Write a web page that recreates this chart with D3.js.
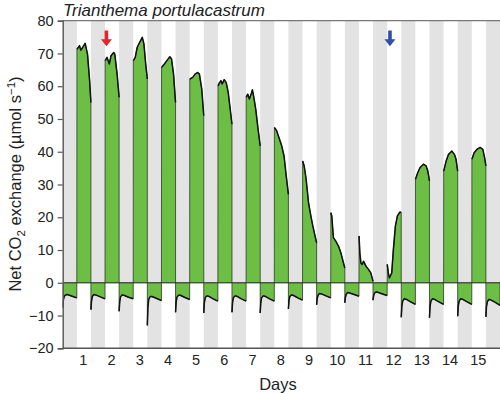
<!DOCTYPE html>
<html>
<head>
<meta charset="utf-8">
<script src="https://cdn.jsdelivr.net/npm/d3@7"></script>
<style>
  body { margin: 0; background: #fff; }
  svg text { font-family: "Liberation Sans", Arial, Helvetica, sans-serif; fill: #222; }
</style>
</head>
<body>
<div id="chart"></div>
<script>
// x labels (days) and y ticks
const dayLabels = ['1','2','3','4','5','6','7','8','9','10','11','12','13','14','15']
const yTicks = [-20, -10, 0, 10, 20, 30, 40, 50, 60, 70, 80]

// nights: hours after lights off, one row per night (16 nights, last one cut off)
const nightHours = [0, 0.5, 1.2, 2.5, 4, 8, 12]
const nightValues = [
    [-7.6, -5.4, -4.2, -3.7, -3.6, -4.1, -4.6],
    [-8.2, -5.6, -4.2, -3.6, -3.7, -4.3, -4.9],
    [-8.7, -5.8, -4.3, -3.7, -3.8, -4.4, -4.9],
    [-13.0, -7.5, -5.0, -4.2, -4.2, -4.8, -5.4],
    [-9.0, -5.9, -4.4, -3.8, -3.8, -4.5, -5.1],
    [-9.2, -6.1, -4.6, -4.0, -4.1, -4.9, -5.6],
    [-9.0, -6.0, -4.6, -4.0, -4.1, -4.9, -5.6],
    [-9.2, -6.1, -4.6, -4.0, -4.1, -4.9, -5.6],
    [-8.0, -5.5, -4.2, -3.7, -3.8, -4.6, -5.3],
    [-6.7, -4.8, -3.8, -3.3, -3.4, -4.0, -4.6],
    [-6.1, -4.4, -3.5, -3.0, -3.1, -3.6, -4.1],
    [-5.3, -3.9, -3.2, -2.8, -2.9, -3.4, -3.9],
    [-10.5, -7.2, -5.6, -4.9, -5.0, -5.8, -6.6],
    [-10.7, -7.3, -5.6, -4.9, -5.0, -5.8, -6.6],
    [-10.2, -7.1, -5.6, -4.9, -5.0, -5.8, -6.6],
    [-10.4, -7.3, -5.8, -5.1, -5.2, -6.0, -6.9]
]

// light periods: [hours after lights on, value]
const dayCurves = [
    [[0.1, 71.3], [2.3, 72.4], [3.4, 71.0], [5.1, 71.9], [7.1, 73.1], [9.1, 69.8], [10.9, 61.7], [12, 55.0]],
    [[0.1, 67.8], [1.7, 68.8], [3.7, 66.8], [5.1, 69.3], [7.4, 70.3], [8.3, 69.8], [10.3, 63.7], [12, 56.6]],
    [[0.1, 67.8], [1.7, 68.8], [3.4, 71.9], [4.9, 73.0], [7.7, 74.9], [9.1, 72.9], [10.6, 66.8], [12, 62.2]],
    [[0.1, 65.7], [2.3, 66.7], [4.6, 67.8], [7.1, 69.0], [8.6, 68.3], [10.3, 63.7], [12, 55.0]],
    [[0.1, 62.2], [2.6, 62.7], [4.6, 63.7], [6.9, 64.2], [8.3, 63.7], [10.3, 59.1], [12, 51.0]],
    [[0.1, 60.1], [1.4, 61.1], [2.6, 61.7], [3.7, 60.7], [5.4, 62.0], [7.1, 61.1], [8.8, 58.1], [10.5, 53.0], [12, 48.4]],
    [[0.1, 56.6], [1.4, 57.6], [2.8, 56.1], [4.3, 57.6], [5.4, 58.9], [6.6, 56.6], [8.2, 53.0], [10.2, 46.9], [12, 41.8]],
    [[0.1, 47.4], [2.0, 46.4], [4.0, 44.3], [6.3, 41.8], [8.3, 38.7], [10.0, 33.1], [12, 27.0]],
    [[0.1, 37.2], [1.4, 35.7], [3.1, 31.6], [5.1, 24.5], [7.1, 20.4], [8.8, 17.3], [12, 12.2]],
    [[0.1, 21.4], [0.9, 20.4], [2.3, 13.8], [4.3, 12.7], [6.6, 11.2], [8.6, 9.2], [10.8, 6.1], [12, 4.5]],
    [[0.1, 14.3], [0.8, 9.0], [1.7, 6.0], [2.8, 5.6], [3.9, 6.6], [6.1, 5.0], [8.1, 4.1], [10.0, 3.1], [12, 0.5]],
    [[0.1, 5.6], [1.0, 3.0], [1.9, 1.5], [3.9, 3.0], [5.3, 10.2], [7.0, 17.3], [8.7, 20.4], [10.9, 21.6], [12, 21.4]],
    [[0.1, 31.6], [2.0, 33.6], [4.0, 35.2], [6.9, 36.2], [9.1, 35.7], [10.6, 34.1], [12, 31.1]],
    [[0.1, 34.1], [2.2, 37.2], [4.2, 39.2], [7.0, 40.2], [9.2, 39.2], [10.6, 37.7], [12, 34.1]],
    [[0.1, 37.7], [2.0, 39.7], [4.3, 40.7], [7.1, 41.3], [9.4, 40.7], [10.9, 38.2], [12, 35.7]]
]

// arrows (day position, tail value, tip value)
const arrowDays = [1.55, 11.6]
const arrowColors = ['#e8232b', '#2f4fa8']
const arrowTop = 77
const arrowTip = 72.2

function drawChart() {
    let W = 500, H = 393
    let svg = d3.select('#chart').append('svg').attr('width', W).attr('height', H)

    let x = d3.scaleLinear().domain([0, 15.5]).range([62.7, 500])
    let y = d3.scaleLinear().domain([-20, 80]).range([348.3, 20.7])

    // build the continuous record (time in days)
    let nightSeg = nightValues.map((vals, i) => vals.map((v, k) => [i + nightHours[k] / 24, v]))
    let daySeg = dayCurves.map((pts, i) => pts.map(p => [i + 0.5 + p[0] / 24, p[1]]))
    let record = []
    nightSeg.forEach((seg, i) => {
        record = record.concat(seg)
        if (daySeg[i]) record = record.concat(daySeg[i])
    })

    svg.append('clipPath').attr('id', 'clip')
        .append('rect').attr('x', x(0)).attr('y', y(80)).attr('width', x(15.5) - x(0)).attr('height', y(-20) - y(80))

    let plot = svg.append('g').attr('clip-path', 'url(#clip)')

    // dark periods
    plot.selectAll('rect.night').data(nightValues).enter()
        .append('rect')
        .attr('x', (d, i) => x(i))
        .attr('width', (d, i) => x(i + 0.5) - x(i))
        .attr('y', y(80))
        .attr('height', y(-20) - y(80))
        .attr('fill', '#e3e3e3')

    let area = d3.area().x(d => x(d[0])).y0(y(0)).y1(d => y(d[1]))
    plot.append('path')
        .attr('d', area(record))
        .attr('fill', '#6dbe45')
        .attr('stroke', '#2b3a24')
        .attr('stroke-width', 0.8)

    plot.append('line')
        .attr('x1', x(0)).attr('x2', x(15.5))
        .attr('y1', y(0)).attr('y2', y(0))
        .attr('stroke', '#3a3a3a').attr('stroke-width', 0.8)

    let line = d3.line().x(d => x(d[0])).y(d => y(d[1]))
    plot.selectAll('path.seg').data(nightSeg.concat(daySeg)).enter()
        .append('path')
        .attr('class', 'seg')
        .attr('d', line)
        .attr('fill', 'none')
        .attr('stroke', '#111')
        .attr('stroke-width', 1.5)
        .attr('stroke-linejoin', 'round')

    // frame top
    svg.append('line')
        .attr('x1', x(0)).attr('x2', x(15.5)).attr('y1', y(80)).attr('y2', y(80))
        .attr('stroke', '#777').attr('stroke-width', 1.2)

    // y axis
    let yAxis = d3.axisLeft(y).tickValues(yTicks).tickSize(5).tickPadding(4)
    let gy = svg.append('g').attr('transform', `translate(${x(0)},0)`).call(yAxis)
    gy.select('.domain').attr('stroke', '#555').attr('stroke-width', 1.4)
    gy.selectAll('.tick line').attr('stroke', '#555').attr('stroke-width', 1.2)
    gy.selectAll('text').attr('font-size', 14.5).attr('fill', '#222')
        .attr('font-family', '"Liberation Sans", Arial, sans-serif')

    // x axis (labels centred on the light periods)
    svg.append('line')
        .attr('x1', x(0)).attr('x2', x(15.5)).attr('y1', y(-20)).attr('y2', y(-20))
        .attr('stroke', '#555').attr('stroke-width', 1.6)
    svg.selectAll('text.day').data(dayLabels).enter()
        .append('text')
        .attr('class', 'day')
        .attr('x', (d, i) => x(i + 0.73))
        .attr('y', 365)
        .attr('text-anchor', 'middle')
        .attr('font-size', 14.5)
        .text(d => d)

    svg.append('text')
        .attr('x', 278).attr('y', 390)
        .attr('text-anchor', 'middle')
        .attr('font-size', 16.5)
        .text('Days')

    // y title
    let yt = svg.append('text')
        .attr('transform', 'translate(21,184) rotate(-90)')
        .attr('text-anchor', 'middle')
        .attr('font-size', 16.5)
    yt.append('tspan').text('Net CO')
    yt.append('tspan').attr('font-size', 11.5).attr('dy', 4).text('2')
    yt.append('tspan').attr('dy', -4).text(' exchange (\u00b5mol s')
    yt.append('tspan').attr('font-size', 11.5).attr('dy', -6).text('\u22121')
    yt.append('tspan').attr('dy', 6).text(')')

    // title
    svg.append('text')
        .attr('x', 63).attr('y', 15.5)
        .attr('font-size', 17)
        .attr('font-style', 'italic')
        .text('Trianthema portulacastrum')

    // arrows
    arrowDays.forEach((t, i) => {
        let cx = x(t), y0 = y(arrowTop), y1 = y(arrowTip)
        svg.append('path')
            .attr('d', `M${cx - 1.8},${y0} L${cx + 1.8},${y0} L${cx + 1.8},${y1 - 7} L${cx + 5.5},${y1 - 7} L${cx},${y1} L${cx - 5.5},${y1 - 7} L${cx - 1.8},${y1 - 7} Z`)
            .attr('fill', arrowColors[i])
    })
}

drawChart()
</script>
</body>
</html>
